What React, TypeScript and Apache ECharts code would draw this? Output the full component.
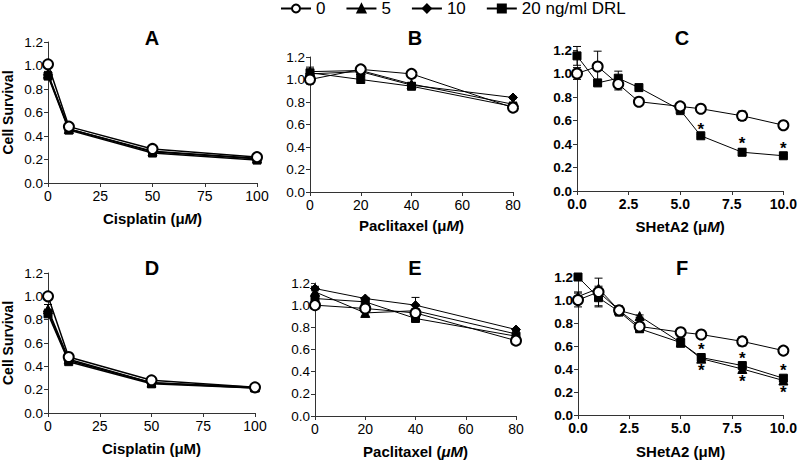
import React, { useEffect, useRef } from "react";
import * as echarts from "echarts";

const FONT = "'Liberation Sans', Arial, Helvetica, sans-serif";

// ---------- data ----------
const seriesNames = ["0", "5", "10", "20 ng/ml DRL"];
const panelLetters = ["A", "B", "C", "D", "E", "F"];

const cisplatinDoses = [0, 10, 50, 100];
const paclitaxelDoses = [0, 20, 40, 80];
const shetDoses = [0, 1, 2, 3, 5, 6, 8, 10];

const cisplatinTicks = [0, 25, 50, 75, 100];
const paclitaxelTicks = [0, 20, 40, 60, 80];
const shetTicks = [0, 2.5, 5, 7.5, 10];
const survivalTicks = [0, 0.2, 0.4, 0.6, 0.8, 1.0, 1.2];

// Panel A
const aCircle = [1.01, 0.48, 0.29, 0.22];
const aCircleErr = [0.02, 0.01, 0.01, 0.01];
const aTriangle = [0.93, 0.46, 0.27, 0.21];
const aTriangleErr = [0.02, 0.01, 0.01, 0.01];
const aDiamond = [0.92, 0.46, 0.265, 0.205];
const aDiamondErr = [0.02, 0.01, 0.01, 0.01];
const aSquare = [0.91, 0.45, 0.255, 0.195];
const aSquareErr = [0.02, 0.01, 0.01, 0.01];

// Panel B
const bCircle = [1.0, 1.09, 1.05, 0.75];
const bCircleErr = [0.04, 0.01, 0.01, 0.02];
const bTriangle = [1.07, 1.08, 0.96, 0.78];
const bTriangleErr = [0.04, 0.02, 0.01, 0.02];
const bDiamond = [1.05, 1.07, 0.95, 0.84];
const bDiamondErr = [0.02, 0.01, 0.01, 0.01];
const bSquare = [1.06, 1.0, 0.94, 0.76];
const bSquareErr = [0.02, 0.03, 0.01, 0.01];

// Panel C
const cCircle = [1.0, 1.06, 0.91, 0.76, 0.72, 0.7, 0.64, 0.56];
const cCircleErr = [0.05, 0.13, 0.05, 0.02, 0.01, 0.01, 0.04, 0.03];
const cSquare = [1.15, 0.92, 0.96, 0.88, 0.69, 0.47, 0.33, 0.3];
const cSquareErr = [0.08, 0.02, 0.06, 0.01, 0.04, 0.01, 0.03, 0.01];
const cStars = [
  [6, 0.55],
  [8, 0.43],
  [10, 0.39],
];

// Panel D
const dCircle = [1.0, 0.48, 0.28, 0.22];
const dCircleErr = [0.02, 0.01, 0.01, 0.01];
const dTriangle = [0.89, 0.46, 0.26, 0.22];
const dTriangleErr = [0.04, 0.01, 0.01, 0.01];
const dDiamond = [0.87, 0.45, 0.26, 0.215];
const dDiamondErr = [0.02, 0.01, 0.01, 0.01];
const dSquare = [0.85, 0.44, 0.25, 0.215];
const dSquareErr = [0.02, 0.01, 0.01, 0.01];

// Panel E
const eCircle = [1.0, 0.97, 0.93, 0.68];
const eCircleErr = [0.01, 0.02, 0.02, 0.01];
const eTriangle = [1.12, 0.93, 0.95, 0.74];
const eTriangleErr = [0.02, 0.03, 0.02, 0.02];
const eDiamond = [1.15, 1.06, 1.0, 0.78];
const eDiamondErr = [0.02, 0.01, 0.07, 0.01];
const eSquare = [1.06, 1.03, 0.88, 0.72];
const eSquareErr = [0.02, 0.02, 0.01, 0.01];

// Panel F
const fCircle = [1.0, 1.07, 0.91, 0.77, 0.72, 0.7, 0.64, 0.56];
const fCircleErr = [0.06, 0.12, 0.04, 0.02, 0.01, 0.01, 0.04, 0.03];
const fTriangle = [1.03, 1.1, 0.91, 0.86, 0.63, 0.49, 0.4, 0.3];
const fTriangleErr = [0.04, 0.02, 0.03, 0.01, 0.03, 0.01, 0.03, 0.01];
const fSquare = [1.2, 1.02, 0.9, 0.75, 0.63, 0.5, 0.43, 0.32];
const fSquareErr = [0.01, 0.08, 0.04, 0.03, 0.04, 0.01, 0.02, 0.02];
const fStars = [
  [6, 0.6],
  [8, 0.52],
  [10, 0.41],
  [6, 0.41],
  [8, 0.32],
  [10, 0.22],
];

// ---------- layout ----------
const grids = [
  { left: 47, top: 42, width: 210, height: 141 },
  { left: 310, top: 57, width: 203, height: 135 },
  { left: 577, top: 50, width: 208, height: 141 },
  { left: 47, top: 273, width: 208, height: 140 },
  { left: 315, top: 283, width: 201, height: 135 },
  { left: 578, top: 277, width: 208, height: 139 },
];
const titlePos = [
  [152, 38],
  [415, 38],
  [682, 38],
  [152, 268],
  [415, 268],
  [682, 268],
];

const symbols = ["emptyCircle", "triangle", "diamond", "rect"];
const symbolSizes = [10, 9, 9, 8];
const AXIS_COLOR = "#333";

function xAxisCfg(gi: number, ticks: number[], name: string, bold: boolean, decimals: number, nameGap: number) {
  return {
    type: "value",
    gridIndex: gi,
    min: ticks[0],
    max: ticks[ticks.length - 1],
    interval: ticks[1] - ticks[0],
    name,
    nameLocation: "middle",
    nameGap,
    nameTextStyle: {
      fontFamily: FONT,
      fontSize: 15,
      fontWeight: "bold",
      color: "#000",
      rich: { i: { fontFamily: FONT, fontSize: 15, fontWeight: "bold", fontStyle: "italic", color: "#000" } },
    },
    axisLine: { show: true, onZero: false, lineStyle: { color: AXIS_COLOR, width: 1 } },
    axisTick: { show: true, length: 4, lineStyle: { color: AXIS_COLOR } },
    splitLine: { show: false },
    axisLabel: {
      margin: 6,
      fontFamily: FONT,
      fontSize: 14,
      fontWeight: bold ? "bold" : "normal",
      color: "#000",
      showMinLabel: true,
      showMaxLabel: true,
      formatter: (v: number) => v.toFixed(decimals),
    },
  };
}

function yAxisCfg(gi: number, bold: boolean, withName: boolean) {
  return {
    type: "value",
    gridIndex: gi,
    min: survivalTicks[0],
    max: survivalTicks[survivalTicks.length - 1],
    interval: 0.2,
    name: withName ? "Cell Survival" : "",
    nameLocation: "middle",
    nameGap: 33,
    nameTextStyle: { fontFamily: FONT, fontSize: 14, fontWeight: "bold", color: "#000" },
    axisLine: { show: true, onZero: false, lineStyle: { color: AXIS_COLOR, width: 1 } },
    axisTick: { show: true, length: 4, lineStyle: { color: AXIS_COLOR } },
    splitLine: { show: false },
    axisLabel: {
      margin: 5,
      fontFamily: FONT,
      fontSize: 13.5,
      fontWeight: bold ? "bold" : "normal",
      color: "#000",
      showMinLabel: true,
      showMaxLabel: true,
      formatter: (v: number) => v.toFixed(1),
    },
  };
}

function lineSeries(si: number, xs: number[], ys: number[], gi: number, width: number) {
  return {
    type: "line",
    name: seriesNames[si],
    xAxisIndex: gi,
    yAxisIndex: gi,
    data: xs.map((x, i) => [x, ys[i]]),
    symbol: symbols[si],
    symbolSize: symbolSizes[si],
    showAllSymbol: true,
    lineStyle: { color: "#000", width },
    itemStyle: { color: "#000", borderColor: "#000", borderWidth: 1 },
    z: si === 0 ? 5 : 4,
    silent: true,
    animation: false,
  };
}

function errSeries(xs: number[], ys: number[], errs: number[], gi: number) {
  return {
    type: "custom",
    xAxisIndex: gi,
    yAxisIndex: gi,
    data: xs.map((x, i) => [x, ys[i], errs[i]]),
    z: 3,
    silent: true,
    renderItem: (params: any, api: any) => {
      const x = api.value(0);
      const y = api.value(1);
      const e = api.value(2);
      if (!e) return null;
      const top = api.coord([x, y + e]);
      const bot = api.coord([x, y - e]);
      const cap = 4;
      const st = { stroke: "#000", lineWidth: 1 };
      return {
        type: "group",
        children: [
          { type: "line", shape: { x1: top[0], y1: top[1], x2: bot[0], y2: bot[1] }, style: st },
          { type: "line", shape: { x1: top[0] - cap, y1: top[1], x2: top[0] + cap, y2: top[1] }, style: st },
          { type: "line", shape: { x1: bot[0] - cap, y1: bot[1], x2: bot[0] + cap, y2: bot[1] }, style: st },
        ],
      };
    },
  };
}

function starSeries(stars: number[][], gi: number) {
  return {
    type: "custom",
    xAxisIndex: gi,
    yAxisIndex: gi,
    data: stars,
    z: 6,
    silent: true,
    renderItem: (params: any, api: any) => {
      const p = api.coord([api.value(0), api.value(1)]);
      return {
        type: "text",
        x: p[0],
        y: p[1] + 3,
        style: {
          text: "*",
          fontFamily: FONT,
          fontSize: 17,
          fontWeight: "bold",
          fill: "#000",
          align: "center",
          verticalAlign: "middle",
        },
      };
    },
  };
}

function panelSeries(gi: number, xs: number[], sets: (number[] | null)[][], width: number) {
  const out: any[] = [];
  sets.forEach((pair, si) => {
    const ys = pair[0];
    const errs = pair[1];
    if (!ys) return;
    if (errs) out.push(errSeries(xs, ys, errs, gi));
    out.push(lineSeries(si, xs, ys, gi, width));
  });
  return out;
}

function buildOption() {
  const series: any[] = [
    ...panelSeries(0, cisplatinDoses, [[aCircle, aCircleErr], [aTriangle, aTriangleErr], [aDiamond, aDiamondErr], [aSquare, aSquareErr]], 1.5),
    ...panelSeries(1, paclitaxelDoses, [[bCircle, bCircleErr], [bTriangle, bTriangleErr], [bDiamond, bDiamondErr], [bSquare, bSquareErr]], 1),
    ...panelSeries(2, shetDoses, [[cCircle, cCircleErr], [null, null], [null, null], [cSquare, cSquareErr]], 1),
    ...panelSeries(3, cisplatinDoses, [[dCircle, dCircleErr], [dTriangle, dTriangleErr], [dDiamond, dDiamondErr], [dSquare, dSquareErr]], 1.5),
    ...panelSeries(4, paclitaxelDoses, [[eCircle, eCircleErr], [eTriangle, eTriangleErr], [eDiamond, eDiamondErr], [eSquare, eSquareErr]], 1),
    ...panelSeries(5, shetDoses, [[fCircle, fCircleErr], [fTriangle, fTriangleErr], [null, null], [fSquare, fSquareErr]], 1),
    starSeries(cStars, 2),
    starSeries(fStars, 5),
  ];

  return {
    animation: false,
    backgroundColor: "#fff",
    textStyle: { fontFamily: FONT },
    legend: {
      data: seriesNames,
      left: 280,
      top: 0,
      padding: 0,
      itemWidth: 30,
      itemHeight: 10,
      itemGap: 20,
      selectedMode: false,
      textStyle: { fontFamily: FONT, fontSize: 17, color: "#000" },
    },
    grid: grids.map((g) => ({ ...g, containLabel: false })),
    xAxis: [
      xAxisCfg(0, cisplatinTicks, "Cisplatin (μ{i|M})", false, 0, 28),
      xAxisCfg(1, paclitaxelTicks, "Paclitaxel (μ{i|M})", false, 0, 26),
      xAxisCfg(2, shetTicks, "SHetA2 (μ{i|M})", true, 1, 28),
      xAxisCfg(3, cisplatinTicks, "Cisplatin (μM)", false, 0, 28),
      xAxisCfg(4, paclitaxelTicks, "Paclitaxel ({i|μM})", false, 0, 28),
      xAxisCfg(5, shetTicks, "SHetA2 (μM)", true, 1, 29),
    ],
    yAxis: [
      yAxisCfg(0, false, true),
      yAxisCfg(1, false, false),
      yAxisCfg(2, true, false),
      yAxisCfg(3, false, true),
      yAxisCfg(4, false, false),
      yAxisCfg(5, true, false),
    ],
    graphic: panelLetters.map((t, i) => ({
      type: "text",
      x: titlePos[i][0],
      y: titlePos[i][1],
      silent: true,
      style: {
        text: t,
        fontFamily: FONT,
        fontSize: 20,
        fontWeight: "bold",
        fill: "#000",
        align: "center",
        verticalAlign: "middle",
      },
    })),
    series,
  };
}

export default function App() {
  const ref = useRef<HTMLDivElement>(null);
  useEffect(() => {
    document.body.style.margin = "0";
    if (!ref.current) return;
    const chart = echarts.init(ref.current, null, { renderer: "svg" });
    chart.setOption(buildOption() as any);
    return () => chart.dispose();
  }, []);
  return <div ref={ref} style={{ width: 800, height: 460, position: "absolute", left: 0, top: 0 }} />;
}
